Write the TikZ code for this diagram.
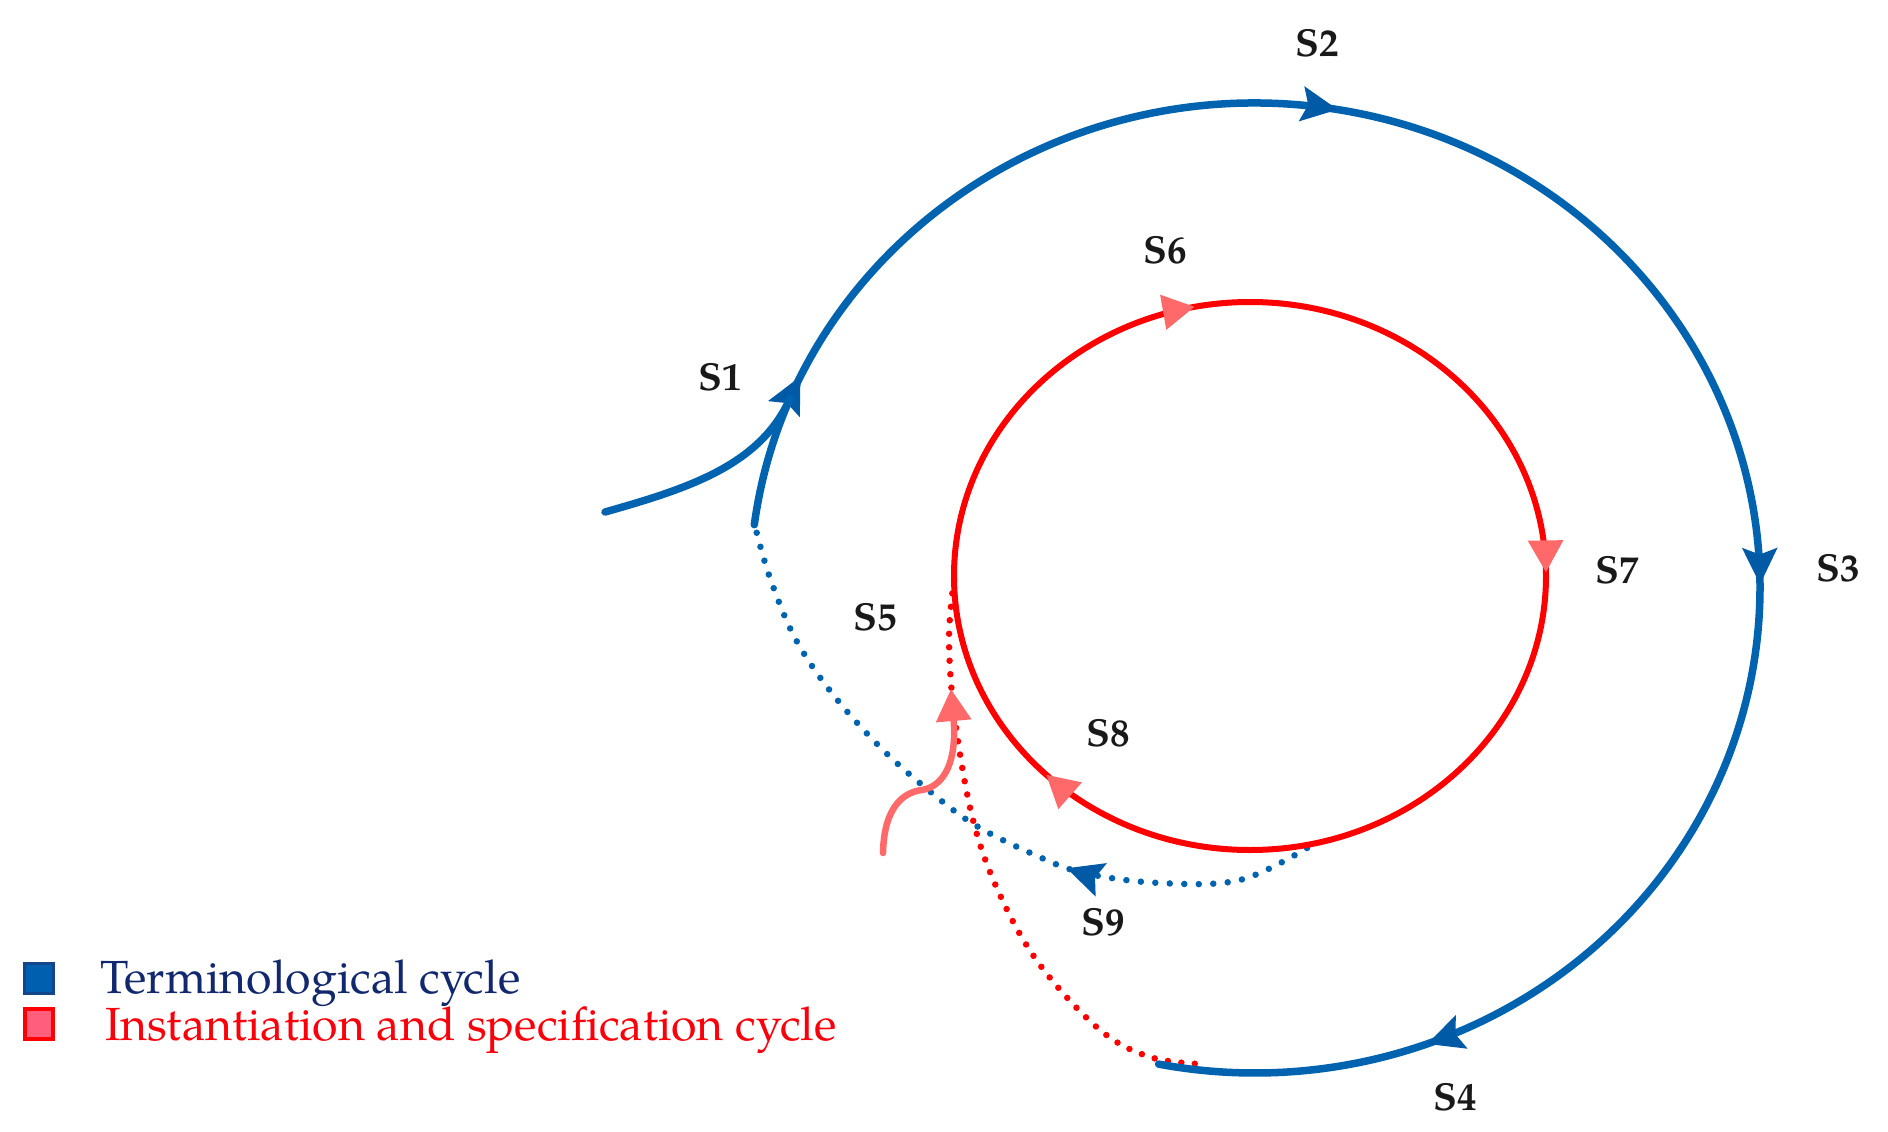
\documentclass[tikz,border=0pt]{standalone}
\usepackage{fontspec}
\setmainfont{TeX Gyre Pagella}
\usetikzlibrary{arrows.meta,decorations.markings}
\definecolor{blueC}{RGB}{0,99,175}
\definecolor{blueTip}{RGB}{0,90,165}
\definecolor{redC}{RGB}{255,0,0}
\definecolor{pinkC}{RGB}{255,105,105}
\definecolor{navyT}{RGB}{18,40,110}
\definecolor{redT}{RGB}{250,0,10}
\definecolor{legBlueB}{RGB}{20,70,140}
\definecolor{legBlueF}{RGB}{0,96,176}
\definecolor{legRedF}{RGB}{255,95,125}
\definecolor{labelC}{RGB}{25,25,25}
\tikzset{
  bluetip/.tip={Stealth[length=36pt,width=34pt,inset=6pt,color=blueTip]},
  redtip/.tip={Triangle[length=32pt,width=34pt,color=pinkC]},
  bluearc/.style={draw=blueC,line width=7.5pt,line cap=round},
  redarc/.style={draw=redC,line width=6pt},
  bluedots/.style={draw=blueC,line width=6.5pt,line cap=round,dash pattern=on 0pt off 14.5pt},
  reddots/.style={draw=redC,line width=6.5pt,line cap=round,dash pattern=on 0pt off 13.5pt},
  pinkline/.style={draw=pinkC,line width=6.5pt,line cap=round},
  slabel/.style={text=labelC,font=\bfseries\fontsize{39}{46}\selectfont,inner sep=0pt},
  legtext/.style={font=\fontsize{46.5}{54}\selectfont,inner sep=0pt,anchor=base west},
}
\begin{document}
\begin{tikzpicture}[x=1pt,y=-1pt]
\useasboundingbox (0,0) rectangle (1888,1132);
\fill[white] (0,0) rectangle (1888,1132);

% dotted return paths
\draw[reddots] plot[smooth,tension=0.6] coordinates {(954,580) (949,640) (955,720) (973,820) (1000,895) (1040,965) (1100,1030) (1150,1057) (1200,1064)};
\draw[bluedots,postaction={decorate},decoration={markings,mark=at position 0.343 with {\arrow{bluetip}}}]
  plot[smooth,tension=0.6] coordinates {(1307,848) (1240,880) (1160,883) (1084,873) (1035,855) (975,825) (927,789) (879,746) (831,692) (795,638) (770,578) (756,530)};

% outer terminological cycle
\coordinate (b0) at (754.3,524.7);
\draw[bluearc,postaction={decorate},decoration={markings,
   mark=at position 0.066 with {\arrow{bluetip}},
   mark=at position 0.337 with {\arrow{bluetip}},
   mark=at position 0.629 with {\arrow{bluetip}},
   mark=at position 0.885 with {\arrow{bluetip}}}]
  (b0) arc[start angle=-187.5,end angle=-461,x radius=505pt,y radius=485pt] coordinate (b1);

% entry into the terminological cycle
\coordinate (e0) at (605,512);
\coordinate (e1) at (790.1,398.5);
\draw[bluearc] (e0) .. controls (690,488) and (760,465) .. (e1);

% inner instantiation cycle
\coordinate (r0) at (954,576);
\draw[redarc,postaction={decorate},decoration={markings,
   mark=at position 0.219 with {\arrow{redtip}},
   mark=at position 0.498 with {\arrow{redtip}},
   mark=at position 0.874 with {\arrow{redtip}}}]
  (r0) arc[start angle=-180,end angle=-540,x radius=296pt,y radius=274pt];

% entry into the instantiation cycle
\coordinate (p0) at (883,853);
\coordinate (p1) at (922,790);
\coordinate (p2) at (951,689);
\draw[pinkline,-{Triangle[length=32pt,width=34pt]}] (p0) .. controls (884,805) and (905,792) .. (p1) .. controls (945,786) and (957,760) .. (p2);

% labels
\node[slabel] (s1) at (720,377) {S1};
\node[slabel] (s2) at (1317,43) {S2};
\node[slabel] (s3) at (1838,568) {S3};
\node[slabel] (s4) at (1455,1097) {S4};
\node[slabel] (s5) at (875,617) {S5};
\node[slabel] (s6) at (1165,250) {S6};
\node[slabel] (s7) at (1617,570) {S7};
\node[slabel] (s8) at (1108,733) {S8};
\node[slabel] (s9) at (1103,922) {S9};

% legend
\node[draw=legBlueB,fill=legBlueF,line width=3pt,minimum width=29pt,minimum height=30pt,inner sep=0pt] (lb) at (39,978.5) {};
\node[draw=redC,fill=legRedF,line width=4pt,minimum width=28pt,minimum height=30pt,inner sep=0pt] (lr) at (39,1024) {};
\node[legtext,text=navyT] (lbt) at (100,993) {Terminological cycle};
\node[legtext,text=redT] (lrt) at (105,1040) {Instantiation and specification cycle};
\end{tikzpicture}
\end{document}
